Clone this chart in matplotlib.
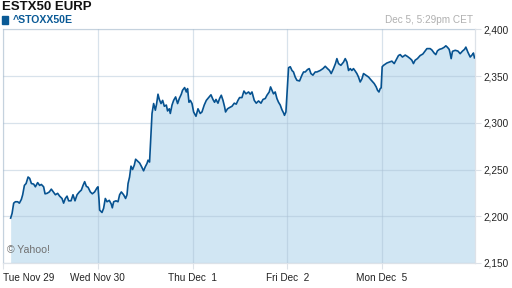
import matplotlib
matplotlib.use("Agg")
from matplotlib import pyplot as plt

plt.rcParams['font.family'] = ['Liberation Sans', 'DejaVu Sans']

# session position: 0 = Tue Nov 29 open, 1 = Wed Nov 30, ... (one unit per trading day)
t_day = [0.080, 0.095, 0.112, 0.130, 0.154, 0.172, 0.193, 0.207, 0.225, 0.243,
         0.264, 0.281, 0.299, 0.323, 0.341, 0.365, 0.386, 0.404, 0.428, 0.443,
         0.464, 0.488, 0.509, 0.534, 0.552, 0.576, 0.597, 0.622, 0.639, 0.657,
         0.675, 0.692, 0.717, 0.738, 0.759, 0.781, 0.805, 0.826, 0.844, 0.861,
         0.879, 0.897, 0.921, 0.942, 0.966, 0.992, 1.002,
         1.013, 1.019, 1.044, 1.061, 1.079, 1.097, 1.121, 1.142, 1.153, 1.167,
         1.192, 1.213, 1.230, 1.248, 1.272, 1.293, 1.308, 1.319, 1.335, 1.350,
         1.367, 1.385, 1.399, 1.420, 1.441, 1.459, 1.483, 1.501, 1.519, 1.530,
         1.546, 1.557, 1.572, 1.589, 1.607, 1.620, 1.635, 1.649, 1.667, 1.684,
         1.702, 1.723, 1.736, 1.754, 1.765, 1.783, 1.800, 1.821, 1.842, 1.860,
         1.881, 1.894, 1.916, 1.934, 1.947, 1.962, 1.976, 1.994,
         2.011, 2.036, 2.057, 2.081, 2.099, 2.123, 2.145, 2.169, 2.194, 2.215,
         2.232, 2.247, 2.268, 2.285, 2.303, 2.321, 2.338, 2.348, 2.369, 2.390,
         2.416, 2.440, 2.461, 2.479, 2.496, 2.521, 2.542, 2.563, 2.591, 2.609,
         2.627, 2.651, 2.672, 2.696, 2.722, 2.743, 2.767, 2.785, 2.809, 2.823,
         2.838, 2.854, 2.872, 2.890, 2.907, 2.925, 2.943, 2.960, 2.970, 2.985,
         2.996, 3.013, 3.031, 3.049, 3.065, 3.083, 3.101, 3.129, 3.154, 3.171,
         3.189, 3.213, 3.231, 3.249, 3.270, 3.294, 3.312, 3.347, 3.376, 3.400,
         3.424, 3.445, 3.463, 3.487, 3.508, 3.523, 3.540, 3.565, 3.593, 3.611,
         3.629, 3.646, 3.664, 3.681, 3.698, 3.716, 3.734, 3.751, 3.769, 3.787,
         3.804, 3.829, 3.857, 3.882, 3.903, 3.917, 3.938, 3.952, 3.967, 3.980,
         3.990,
         4.001, 4.015, 4.051, 4.078, 4.103, 4.128, 4.156, 4.173, 4.191, 4.215,
         4.244, 4.268, 4.297, 4.314, 4.331, 4.349, 4.373, 4.402, 4.430, 4.455,
         4.473, 4.507, 4.525, 4.549, 4.567, 4.584, 4.605, 4.631, 4.655, 4.673,
         4.690, 4.708, 4.719, 4.729, 4.743, 4.772, 4.800, 4.824, 4.849, 4.870,
         4.884, 4.905, 4.930, 4.953, 4.964, 4.975]

price = [2198.0, 2203.0, 2214.0, 2215.5, 2215.5, 2214.0, 2218.0, 2223.0, 2233.0, 2235.0,
         2242.0, 2240.5, 2235.0, 2234.4, 2231.5, 2236.0, 2233.0, 2234.0, 2231.5, 2224.0,
         2224.5, 2226.0, 2229.0, 2225.5, 2223.0, 2224.5, 2221.5, 2219.0, 2214.0, 2219.0,
         2221.5, 2216.5, 2216.5, 2223.0, 2216.5, 2223.0, 2226.0, 2228.0, 2233.0, 2237.0,
         2232.0, 2231.0, 2226.0, 2224.0, 2226.0, 2230.5, 2231.5,
         2217.0, 2206.6, 2204.0, 2208.5, 2219.0, 2215.5, 2217.0, 2213.0, 2209.0, 2215.5,
         2216.5, 2215.5, 2223.0, 2226.0, 2223.0, 2219.0, 2223.0, 2235.0, 2242.0, 2253.6,
         2250.0, 2254.7, 2261.0, 2259.0, 2257.0, 2253.6, 2248.6, 2253.0, 2256.5, 2260.0,
         2258.0, 2281.0, 2310.0, 2320.6, 2313.5, 2320.0, 2330.6, 2325.0, 2320.6, 2324.0,
         2317.7, 2319.0, 2312.7, 2315.0, 2310.0, 2319.0, 2324.0, 2327.7, 2320.6, 2326.0,
         2330.6, 2334.8, 2337.7, 2333.0, 2336.6, 2322.0, 2324.0, 2320.6,
         2311.6, 2307.0, 2315.0, 2310.0, 2311.6, 2319.0, 2324.0, 2327.0, 2330.0, 2325.0,
         2322.0, 2325.0, 2321.0, 2326.0, 2329.5, 2324.0, 2317.0, 2311.6, 2315.0, 2316.3,
         2317.7, 2321.0, 2320.0, 2324.0, 2327.0, 2327.0, 2334.0, 2331.0, 2333.0, 2330.6,
         2333.0, 2324.0, 2321.0, 2323.4, 2321.0, 2325.0, 2326.0, 2329.5, 2333.0, 2338.4,
         2334.8, 2331.0, 2333.0, 2326.0, 2322.0, 2319.0, 2314.0, 2310.6, 2308.0, 2311.6,
         2331.0, 2359.0, 2360.0, 2356.0, 2354.4, 2349.0, 2345.5, 2344.8, 2351.0, 2354.4,
         2354.4, 2357.0, 2358.0, 2352.7, 2351.0, 2354.4, 2354.4, 2356.0, 2358.0, 2360.5,
         2358.0, 2356.0, 2352.7, 2358.0, 2363.4, 2368.7, 2363.4, 2361.5, 2365.0, 2368.7,
         2365.0, 2356.0, 2358.0, 2356.0, 2358.0, 2355.5, 2352.7, 2349.0, 2343.7, 2347.0,
         2352.7, 2351.0, 2349.0, 2346.0, 2343.7, 2342.0, 2338.4, 2334.8, 2333.0, 2336.6,
         2337.3,
         2360.0, 2361.5, 2364.0, 2365.0, 2366.0, 2363.4, 2368.7, 2372.0, 2373.0, 2370.4,
         2372.5, 2371.0, 2368.7, 2367.0, 2363.4, 2367.0, 2368.7, 2372.0, 2373.6, 2377.0,
         2379.4, 2379.4, 2378.0, 2374.7, 2373.0, 2377.0, 2378.6, 2379.4, 2380.8, 2382.4,
         2380.8, 2378.6, 2374.0, 2368.7, 2376.5, 2377.6, 2376.8, 2374.0, 2376.8, 2378.6,
         2381.0, 2375.7, 2370.4, 2373.0, 2374.7, 2369.5]

day_ticks = [0, 1, 2, 3, 4]
day_labels = ["Tue Nov 29", "Wed Nov 30", "Thu Dec  1", "Fri Dec  2", "Mon Dec  5"]
price_ticks = [2150, 2200, 2250, 2300, 2350, 2400]

line_col = "#0a5a96"
fill_col = "#d1e6f3"
frame_col = "#dde2e8"

fig = plt.figure(figsize=(5.12, 2.88), dpi=100)
ax = fig.add_axes([0.006, 0.087, 0.922, 0.811])

ax.fill_between(t_day, price, 2150, color=fill_col, lw=0, zorder=1)
ax.plot(t_day, price, color="#065290", lw=1.2, zorder=3)

ax.set_xlim(0, 4.982)
ax.set_ylim(2150, 2400)

ax.set_xticks(day_ticks)
ax.set_xticklabels(day_labels)
ax.get_xticklabels()[0].set_horizontalalignment("left")
ax.yaxis.tick_right()
ax.set_yticks(price_ticks)
ax.set_yticklabels([f"{v:,}" for v in price_ticks])

ax.tick_params(axis="both", length=4, width=0.8, color=frame_col,
               labelcolor="#222222", labelsize=7.2)
ax.tick_params(axis="x", pad=3)
ax.tick_params(axis="y", pad=2)

ax.grid(True, color="#a9bfd3", alpha=0.45, lw=0.9, zorder=2)
ax.set_axisbelow(False)
for s in ax.spines.values():
    s.set_color(frame_col)
    s.set_linewidth(0.9)

fig.text(0.004, 0.995, "ESTX50 EURP", fontsize=9.5, fontweight="bold",
         color="#111111", va="top", ha="left")
fig.patches.append(plt.Rectangle((0.004, 0.916), 0.012, 0.027,
                                 transform=fig.transFigure, color=line_col))
fig.text(0.025, 0.930, "^STOXX50E", fontsize=7.6, fontweight="bold",
         color=line_col, va="center", ha="left")
fig.text(0.923, 0.930, "Dec 5, 5:29pm CET", fontsize=7.2, color="#b0b0b0",
         va="center", ha="right")
ax.text(0.009, 0.035, "\u00a9 Yahoo!", transform=ax.transAxes, fontsize=7.6,
        color="#707070", va="bottom", ha="left", zorder=4)

fig.savefig("out.png", dpi=100)
